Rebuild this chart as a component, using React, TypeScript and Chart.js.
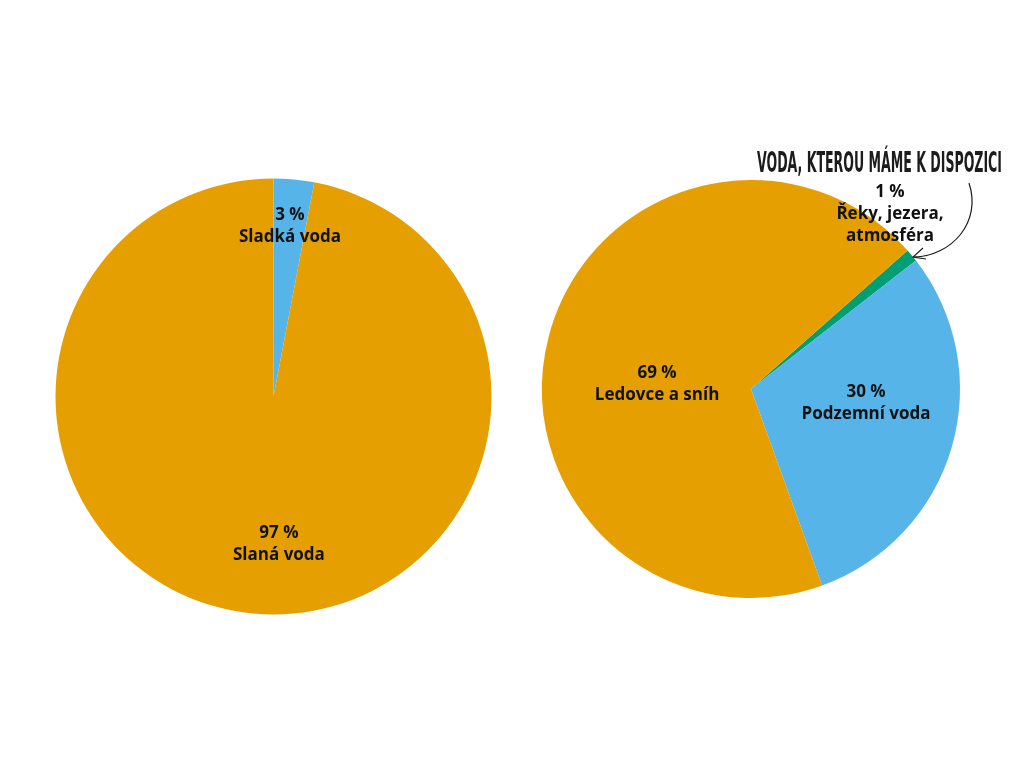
import React, { useEffect, useRef } from "react";
import { Chart, registerables } from "chart.js";

Chart.register(...registerables);

// ---- data ----
const leftCategories = ["Sladká voda", "Slaná voda"];
const leftValues = [3, 97];
const leftColors = ["#56B4E9", "#E69F00"];

const rightCategories = ["Řeky, jezera, atmosféra", "Podzemní voda", "Ledovce a sníh"];
const rightLabelLines = [["Řeky, jezera,", "atmosféra"], ["Podzemní voda"], ["Ledovce a sníh"]];
const rightValues = [1, 30, 69];
const rightColors = ["#009E73", "#56B4E9", "#E69F00"];

const titleText = "VODA, KTEROU MÁME K DISPOZICI";

// label placement: [angle (deg clockwise from top), fraction of radius]
const leftLabelPlacement = [
  [5.5, 0.786],
  [177.9, 0.677],
];
const rightLabelPlacement = [
  [38.5, 1.068],
  [97.2, 0.555],
  [273.0, 0.45],
];

const FONT = "bold 17px 'Open Sans', 'DejaVu Sans', sans-serif";
const LINE_H = 22;

function makeLabelPlugin(lines: string[][], values: number[], placement: number[][]) {
  return {
    id: "sliceLabels",
    afterDatasetsDraw(chart: any) {
      const ctx = chart.ctx;
      const meta = chart.getDatasetMeta(0);
      ctx.save();
      ctx.font = FONT;
      ctx.fillStyle = "#111111";
      ctx.textAlign = "center";
      ctx.textBaseline = "middle";
      meta.data.forEach((arc: any, i: number) => {
        const [deg, frac] = placement[i];
        const a = (deg * Math.PI) / 180;
        const r = arc.outerRadius * frac;
        const cx = arc.x + Math.sin(a) * r;
        const cy = arc.y - Math.cos(a) * r;
        const all = [`${values[i]} %`, ...lines[i]];
        const top = cy - ((all.length - 1) * LINE_H) / 2;
        all.forEach((t, k) => ctx.fillText(t, cx, top + k * LINE_H));
      });
      ctx.restore();
    },
  };
}

const annotationPlugin = {
  id: "annotation",
  afterDraw(chart: any) {
    const ctx = chart.ctx;
    ctx.save();
    ctx.font = "bold 28px 'DejaVu Sans Condensed', 'DejaVu Sans', sans-serif";
    ctx.fillStyle = "#1c1c1c";
    ctx.textAlign = "center";
    ctx.textBaseline = "alphabetic";
    ctx.fillText(titleText, 367.5, 172, 245);
    // arrow
    ctx.strokeStyle = "#1c1c1c";
    ctx.lineWidth = 1.2;
    ctx.beginPath();
    ctx.moveTo(457, 183);
    ctx.bezierCurveTo(470, 222, 440, 256, 402, 257);
    ctx.stroke();
    ctx.beginPath();
    ctx.moveTo(411, 248);
    ctx.lineTo(401, 257);
    ctx.lineTo(414, 259);
    ctx.stroke();
    ctx.restore();
  },
};

function PieCanvas(props: {
  left: number;
  labels: string[];
  values: number[];
  colors: string[];
  rotation: number;
  padding: any;
  plugins: any[];
}) {
  const ref = useRef<HTMLCanvasElement | null>(null);
  useEffect(() => {
    if (!ref.current) return;
    const chart = new Chart(ref.current, {
      type: "pie",
      data: {
        labels: props.labels,
        datasets: [
          {
            data: props.values,
            backgroundColor: props.colors,
            borderWidth: 0,
          },
        ],
      },
      options: {
        responsive: false,
        animation: false,
        rotation: props.rotation,
        layout: { padding: props.padding },
        plugins: { legend: { display: false }, tooltip: { enabled: false } },
      },
      plugins: props.plugins,
    });
    return () => chart.destroy();
  }, []);
  return (
    <canvas
      ref={ref}
      width={512}
      height={768}
      style={{ position: "absolute", left: props.left, top: 0, width: 512, height: 768 }}
    />
  );
}

export default function App() {
  return (
    <div style={{ position: "fixed", left: 0, top: 0, width: 1024, height: 768, background: "#ffffff" }}>
      <PieCanvas
        left={0}
        labels={leftCategories}
        values={leftValues}
        colors={leftColors}
        rotation={0}
        padding={{ left: 55.5, right: 20.5, top: 178.5, bottom: 153.5 }}
        plugins={[makeLabelPlugin(leftCategories.map((c) => [c]), leftValues, leftLabelPlacement)]}
      />
      <PieCanvas
        left={512}
        labels={rightCategories}
        values={rightValues}
        colors={rightColors}
        rotation={48.5}
        padding={{ left: 30, right: 64, top: 180, bottom: 170 }}
        plugins={[makeLabelPlugin(rightLabelLines, rightValues, rightLabelPlacement), annotationPlugin]}
      />
    </div>
  );
}
